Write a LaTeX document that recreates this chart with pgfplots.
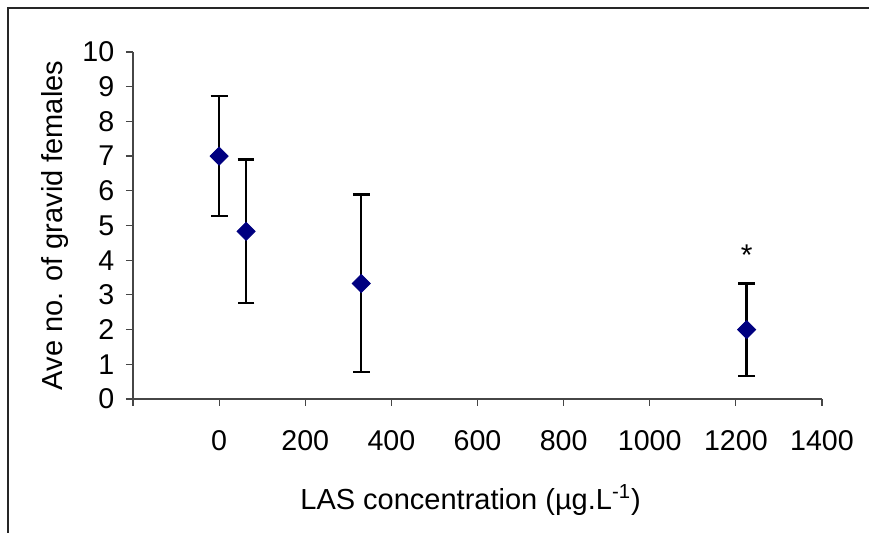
\documentclass[border=0pt]{standalone}
\usepackage{pgfplots}
\pgfplotsset{compat=1.18}
\usepackage{fontspec}
\setmainfont{Liberation Sans}
\definecolor{navy}{RGB}{0,0,128}
\definecolor{axgray}{RGB}{70,70,70}
\begin{document}
\fontsize{14}{16.8}\selectfont
\begin{tikzpicture}
\useasboundingbox (-66.5pt,-67pt) rectangle (368pt,199.5pt);
\fill[white] (-66.5pt,-67pt) rectangle (368pt,199.5pt);
\draw[line width=0.7pt, black!85] (-62.5pt,-67pt) -- (-62.5pt,195.5pt) -- (368pt,195.5pt);
\begin{axis}[
  at={(0,0)}, anchor=south west,
  scale only axis,
  width=344.5pt, height=173.5pt,
  xmin=-200, xmax=1400, ymin=0, ymax=10,
  axis lines=left,
  axis line style={-, axgray, line width=0.6pt},
  tick style={axgray, line width=0.6pt},
  tick align=outside,
  major tick length=3.5pt,
  xtick={-200,0,200,400,600,800,1000,1200,1400},
  xticklabels={,0,200,400,600,800,1000,1200,1400},
  ytick={0,1,2,3,4,5,6,7,8,9,10},
  /pgf/number format/assume math mode=true,
  tick label style={font=\fontsize{14.3}{17}\selectfont},
  xticklabel style={anchor=center, yshift=-17.5pt},
  yticklabel style={anchor=east, xshift=-1pt},
  xlabel={LAS concentration (µg.L\textsuperscript{-1})},
  ylabel={Ave no. of gravid females},
  every axis x label/.style={at={(axis description cs:0.49,-0.291)}, anchor=center},
  every axis y label/.style={at={(axis description cs:-0.113,0.5)}, anchor=center, rotate=90},
  label style={font=\fontsize{14.5}{17.4}\selectfont},
  clip=false,
]
\addplot[
  only marks,
  mark=square*, mark size=3.2pt, mark options={rotate=45, fill=navy, draw=navy},
  error bars/.cd, y dir=both, y explicit,
  error bar style={line width=1.2pt, black},
  error mark options={rotate=90, mark size=4.2pt, line width=1.2pt, black},
] coordinates {
  (0,7.0) +- (0,1.73)
  (62.5,4.83) +- (0,2.07)
  (330,3.33) +- (0,2.56)
  (1225,2.0) +- (0,1.33)
};
\node[inner sep=0pt, font=\fontsize{15}{18}\selectfont] at (axis cs:1225,4.15) {*};
\end{axis}
\end{tikzpicture}
\end{document}
